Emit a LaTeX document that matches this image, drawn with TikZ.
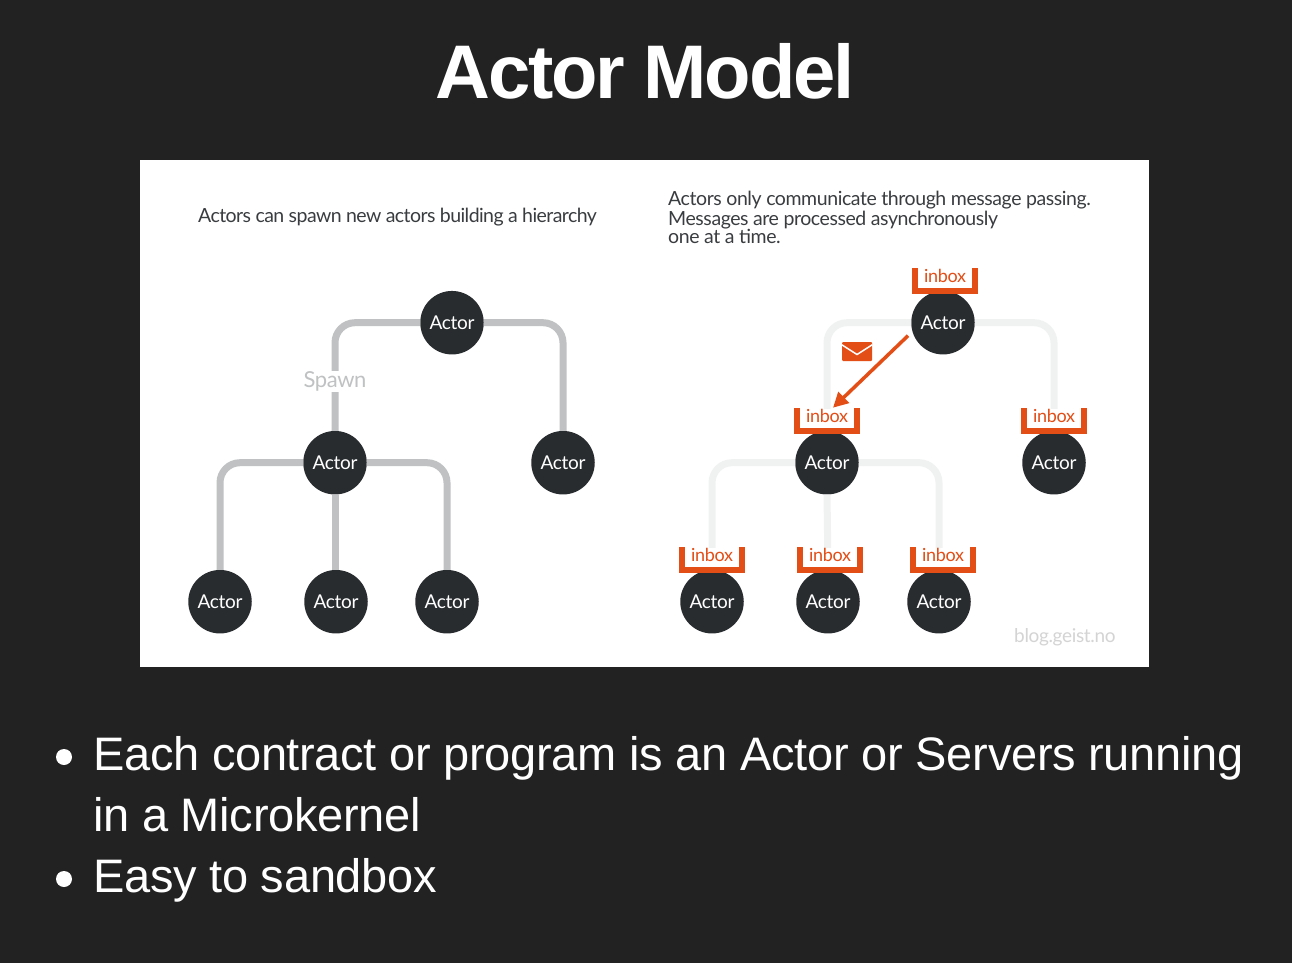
\documentclass[tikz,border=0pt]{standalone}
\usepackage{fontspec}
\setmainfont{Liberation Sans}
\newfontfamily\paneltext{Lato}[LetterSpace=-2.2]
\newfontfamily\actortext{Lato}[LetterSpace=-1.8]
\newfontfamily\spawntext{Lato}[LetterSpace=-2.9]
\usetikzlibrary{positioning, arrows.meta, calc}
\definecolor{slidebg}{HTML}{222222}
\definecolor{actorfill}{HTML}{282C2F}
\definecolor{inboxred}{HTML}{E34E17}
\definecolor{spawnline}{HTML}{BFC1C2}
\definecolor{fadeline}{HTML}{F0F2F2}
\definecolor{captiontext}{HTML}{3A3D40}

\begin{document}
\begin{tikzpicture}[x=1pt, y=-1pt]
        % Definitions
        \def\actorD{63.5}
        \def\inboxW{60}

        % Styles
        \tikzstyle{actor} = [circle, fill=actorfill, text=white, minimum size=\actorD pt, inner sep=0pt, font=\actortext\fontsize{19}{19}\selectfont]
        \tikzstyle{spawnlink} = [draw=spawnline, line width=7pt, rounded corners=20pt]
        \tikzstyle{fadelink} = [draw=fadeline, line width=7pt, rounded corners=20pt]
        \tikzstyle{inbox} = [fill=white, text=inboxred, minimum width=\inboxW pt, text height=14pt, text depth=8pt, inner sep=0pt, font=\actortext\fontsize{18}{18}\selectfont]
        \tikzstyle{bracket} = [draw=inboxred, line width=6.5pt]
        \tikzstyle{caption} = [anchor=base west, inner sep=0pt, text=captiontext, font=\paneltext\fontsize{19.5}{19.5}\selectfont]
        \tikzstyle{bullettext} = [anchor=base west, inner sep=0pt, text=white, font=\addfontfeatures{LetterSpace=-0.7}]
        \tikzstyle{bulletdot} = [circle, fill=white, minimum size=16pt, inner sep=0pt]

        % Slide and panel
        \fill[slidebg] (0,0) rectangle (1292,963);
        \fill[white] (140,160) rectangle (1149,667);

        % Title
        \node[text=white, inner sep=0pt, font=\bfseries\fontsize{76}{76}\selectfont\addfontfeatures{LetterSpace=-3}] (title) at (645,71) {Actor Model};

        % Captions
        \node[caption, font=\spawntext\fontsize{19.5}{19.5}\selectfont] (capL) at (198,222) {Actors can spawn new actors building a hierarchy};
        \node[caption] (capRa) at (668,205) {Actors only communicate through message passing.};
        \node[caption] (capRb) at (668,225) {Messages are processed asynchronously};
        \node[caption] (capRc) at (668,243) {one at a time.};

        % Actors
        \foreach \name/\x/\y in {topL/452/322.7, midL/335/462.7, sideL/563/462.7, leafLa/220/601.7, leafLb/336/601.7, leafLc/447/601.7,
                                 topR/943/322.7, midR/827/462.7, sideR/1054/462.7, leafRa/712/601.7, leafRb/828/601.7, leafRc/939/601.7} {
            \node[actor] (\name) at (\x,\y) {Actor};
        }

        % Spawn links
        \draw[spawnlink] (topL.west) -| (midL.north);
        \draw[spawnlink] (topL.east) -| (sideL.north);
        \draw[spawnlink] (midL.west) -| (leafLa.north);
        \draw[spawnlink] (midL.south) -- (midL.south |- leafLb.north);
        \draw[spawnlink] (midL.east) -| (leafLc.north);
        \node[fill=white, text=spawnline, inner sep=1pt, font=\actortext\fontsize{22}{22}\selectfont] (spawn) at (335,381.5) {Spawn};

        % Links on the right
        \draw[fadelink] (topR.west) -| (midR.north);
        \draw[fadelink] (topR.east) -| (sideR.north);
        \draw[fadelink] (midR.west) -| (leafRa.north);
        \draw[fadelink] (midR.south) -- (leafRb.north);
        \draw[fadelink] (midR.east) -| (leafRc.north);

        % Inboxes
        \foreach \name/\dx in {topR/2, midR/0, sideR/0, leafRa/0, leafRb/2, leafRc/4} {
            \node[inbox, anchor=south, xshift=\dx pt] (in\name) at (\name.north) {inbox};
            \draw[bracket] (in\name.north west) -- (in\name.south west) -- (in\name.south east) -- (in\name.north east);
        }

        % Message
        \coordinate (msgFrom) at ($(topR)+(-35,13)$);
        \coordinate (msgTo) at ($(midR)+(6,-55)$);
        \draw[draw=inboxred, line width=3.5pt, -{Triangle[length=15pt, width=15pt]}] (msgFrom) -- (msgTo);
        \node[fill=inboxred, rounded corners=1pt, minimum width=30pt, minimum height=19pt, inner sep=0pt] (envelope) at (857,351.5) {};
        \draw[white, line width=1.5pt] ($(envelope.north west)+(0,3)$) -- ($(envelope.center)+(0,3)$) -- ($(envelope.north east)+(0,3)$);

        % Watermark
        \node[anchor=base west, inner sep=0pt, text=black!17, font=\actortext\fontsize{19}{19}\selectfont] (mark) at (1014,642) {blog.geist.no};

        % Bullets
        \node[bulletdot] (dotA) at (64,757) {};
        \node[bullettext] (lineA) at (93,770.5) {\fontsize{47}{47}\selectfont Each contract or program is an Actor or Servers running};
        \node[bullettext] (lineB) at (93,831.5) {\fontsize{47}{47}\selectfont in a Microkernel};
        \node[bulletdot] (dotB) at (64,879) {};
        \node[bullettext] (lineC) at (93,892.5) {\fontsize{47}{47}\selectfont Easy to sandbox};

\end{tikzpicture}
\end{document}
